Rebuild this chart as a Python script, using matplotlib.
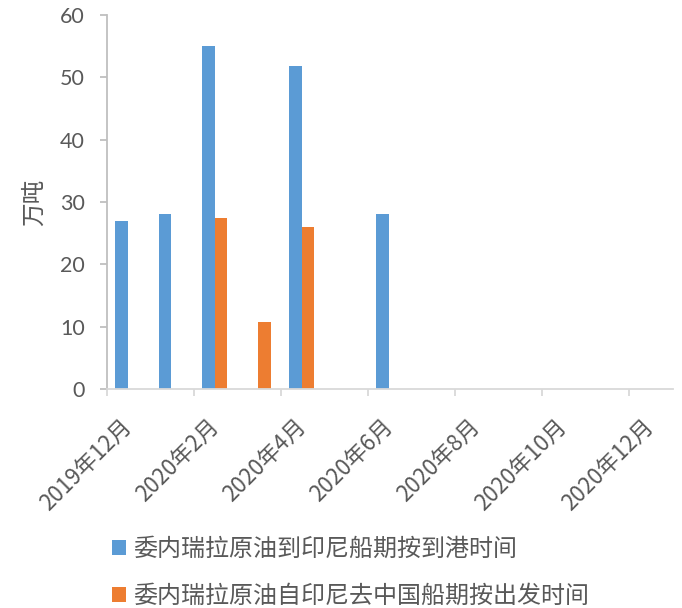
import matplotlib
matplotlib.use("Agg")
import matplotlib.pyplot as plt
import matplotlib.transforms as mtransforms
from matplotlib.patches import Patch
import pandas as pd

plt.rcParams['font.family'] = ['Noto Sans CJK SC', 'DejaVu Sans']

# ---- data ----
start_month = '2019-12'
n_months = 13
blue_months = ['2019-12', '2020-01', '2020-02', '2020-04', '2020-06']
blue_values = [27, 28, 55, 51.8, 28]
orange_months = ['2020-02', '2020-03', '2020-04']
orange_values = [27.4, 10.8, 26]
tick_labels = ['2019年12月', '2020年2月', '2020年4月', '2020年6月',
               '2020年8月', '2020年10月', '2020年12月']
blue_name = '委内瑞拉原油到印尼船期按到港时间'
orange_name = '委内瑞拉原油自印尼去中国船期按出发时间'
ylabel = '万吨'

BLUE = '#5B9BD5'
ORANGE = '#ED7D31'
TXT = '#595959'

def month_index(m):
    p0 = pd.Period(start_month, freq='M')
    return (pd.Period(m, freq='M') - p0).n

bx = [month_index(m) for m in blue_months]
ox = [month_index(m) for m in orange_months]

fig = plt.figure(figsize=(6.82, 6.08), dpi=100)
ax = fig.add_axes([107/682, 1-389/608, (673-107)/682, (389-15)/608])

w = 0.288
ax.bar([x + 0.328 for x in bx], blue_values, width=w, color=BLUE, edgecolor='none')
ax.bar([x + 0.616 for x in ox], orange_values, width=w, color=ORANGE, edgecolor='none')

ax.set_xlim(0, n_months)
ax.set_ylim(0, 60)
ax.set_yticks(range(0, 61, 10))
ax.set_xticks(range(0, n_months, 2))
ax.set_xticklabels(tick_labels)

for s in ['top', 'right']:
    ax.spines[s].set_visible(False)
ax.spines['left'].set_color('#BFBFBF')
ax.spines['bottom'].set_color('#D9D9D9')
ax.spines['left'].set_linewidth(1.3)
ax.spines['bottom'].set_linewidth(1.3)

ax.tick_params(axis='y', length=5, width=1.3, color='#BFBFBF', pad=11,
               labelsize=15.5, labelcolor=TXT)
ax.tick_params(axis='x', length=5, width=1.3, color='#D9D9D9', pad=0,
               labelsize=16, labelcolor=TXT)
for lab in ax.get_yticklabels():
    lab.set_fontfamily(['Lato', 'Noto Sans CJK SC'])

offset = mtransforms.ScaledTranslation(0.21, -0.27, fig.dpi_scale_trans)
for lab in ax.get_xticklabels():
    lab.set_rotation(45)
    lab.set_ha('right')
    lab.set_va('center')
    lab.set_rotation_mode('anchor')
    lab.set_transform(lab.get_transform() + offset)

ax.set_ylabel(ylabel, fontsize=17, color=TXT)
ax.yaxis.set_label_coords(-0.108, 0.5)

handles = [Patch(facecolor=BLUE, edgecolor='none', label=blue_name),
           Patch(facecolor=ORANGE, edgecolor='none', label=orange_name)]
leg = fig.legend(handles=handles, loc='lower left',
                 bbox_to_anchor=(108/682, -0.008), frameon=False,
                 fontsize=17.3, labelcolor=TXT, handlelength=0.58,
                 handleheight=0.58, handletextpad=0.3, labelspacing=0.88,
                 borderaxespad=0.0, borderpad=0.15)

fig.savefig('out.png', dpi=100)
